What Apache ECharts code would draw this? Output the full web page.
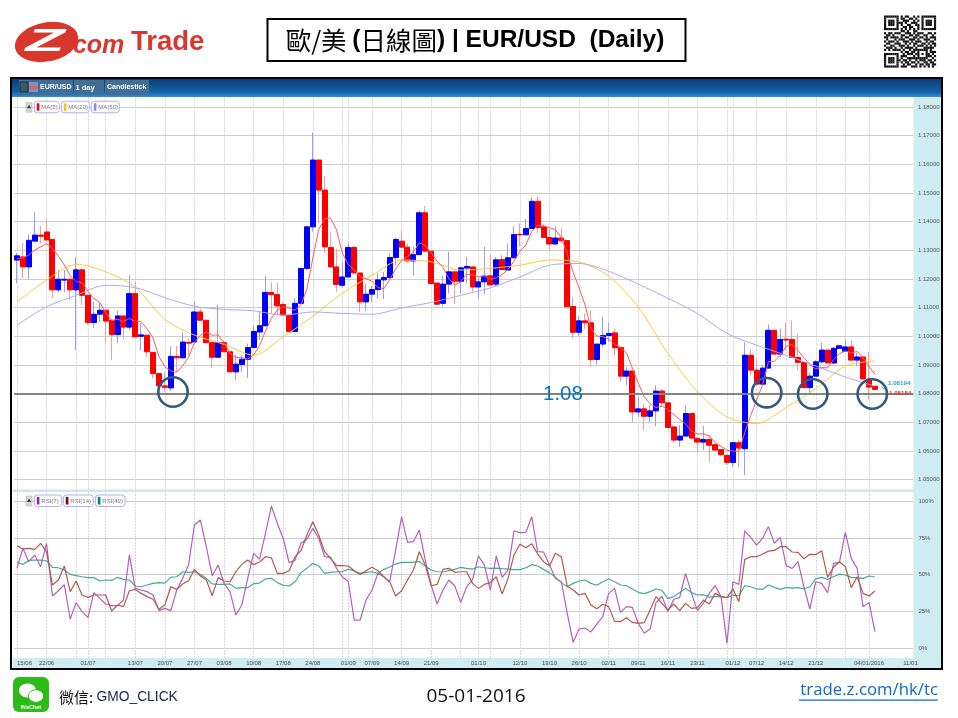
<!DOCTYPE html>
<html>
<head>
<meta charset="utf-8">
<title>EUR/USD Daily</title>
<style>
html,body{margin:0;padding:0;background:#fff;}
#chart{width:958px;height:718px;}
</style>
<script src="https://cdn.jsdelivr.net/npm/echarts@6/dist/echarts.min.js"></script>
</head>
<body>
<div id="chart"></div>
<script>
// date labels on the bottom axis
var tickIdx=[0,5,12,20,25,30,35,40,45,50,56,60,65,70,78,85,90,95,100,105,110,115,121,125,130,135,144,151];
var tickText=["15/06","22/06","01/07","13/07","20/07","27/07","03/08","10/08","17/08","24/08","01/09","07/09","14/09","21/09","01/10","12/10","19/10","26/10","02/11","09/11","16/11","23/11","01/12","07/12","14/12","21/12","04/01/2016","11/01"];
var gridDays=[0,5,10,12,15,20,25,30,35,40,45,50,55,56,60,65,70,75,78,80,85,90,95,100,105,110,115,120,121,125,130,135,140,144];
var slotCount=152;

var openP=[1.1266,1.1277,1.1242,1.1332,1.1353,1.1364,1.1338,1.1162,1.1196,1.1199,1.1162,1.1232,1.1143,1.1048,1.1077,1.1091,1.1056,1.1006,1.1071,1.1032,1.1149,1.1000,1.1004,1.0944,1.0870,1.0827,1.0820,1.0930,1.0925,1.0979,1.0980,1.1085,1.1056,1.0978,1.0927,1.0978,1.0946,1.0876,1.0902,1.0920,1.0961,1.1015,1.1037,1.1153,1.1146,1.1111,1.1074,1.1017,1.1115,1.1237,1.1382,1.1615,1.1510,1.1310,1.1242,1.1178,1.1207,1.1310,1.1221,1.1120,1.1147,1.1163,1.1197,1.1205,1.1275,1.1332,1.1311,1.1263,1.1285,1.1431,1.1297,1.1186,1.1115,1.1182,1.1225,1.1192,1.1238,1.1242,1.1172,1.1190,1.1211,1.1182,1.1268,1.1231,1.1274,1.1356,1.1354,1.1376,1.1471,1.1382,1.1345,1.1322,1.1343,1.1334,1.1104,1.1014,1.1054,1.1047,1.0919,1.0973,1.1003,1.1012,1.0961,1.0861,1.0879,1.0736,1.0747,1.0721,1.0740,1.0809,1.0768,1.0684,1.0638,1.0652,1.0731,1.0644,1.0631,1.0640,1.0622,1.0605,1.0585,1.0560,1.0629,1.0608,1.0934,1.0882,1.0833,1.0889,1.1021,1.0938,1.0990,1.0989,1.0926,1.0909,1.0821,1.0861,1.0911,1.0952,1.0907,1.0958,1.0948,1.0963,1.0917,1.0928,1.0851,1.0826];
var closeP=[1.1281,1.1242,1.1335,1.1353,1.1349,1.1336,1.1162,1.1199,1.1199,1.1162,1.1232,1.1143,1.1048,1.1077,1.1091,1.1053,1.1006,1.1071,1.1032,1.1149,1.0998,1.1005,1.0946,1.0870,1.0827,1.0822,1.0930,1.0925,1.0980,1.0976,1.1085,1.1056,1.0978,1.0927,1.0978,1.0946,1.0876,1.0903,1.0920,1.0961,1.1017,1.1037,1.1153,1.1145,1.1106,1.1074,1.1017,1.1115,1.1237,1.1382,1.1615,1.1510,1.1312,1.1242,1.1181,1.1207,1.1310,1.1221,1.1120,1.1147,1.1163,1.1197,1.1205,1.1275,1.1338,1.1311,1.1263,1.1285,1.1431,1.1297,1.1184,1.1112,1.1182,1.1225,1.1192,1.1239,1.1244,1.1172,1.1190,1.1210,1.1179,1.1267,1.1233,1.1274,1.1355,1.1354,1.1376,1.1471,1.1380,1.1345,1.1322,1.1343,1.1333,1.1103,1.1014,1.1054,1.1047,1.0919,1.0973,1.1003,1.1010,1.0960,1.0861,1.0879,1.0736,1.0747,1.0721,1.0740,1.0809,1.0768,1.0682,1.0638,1.0652,1.0731,1.0645,1.0631,1.0640,1.0620,1.0603,1.0587,1.0560,1.0629,1.0610,1.0934,1.0882,1.0833,1.0889,1.1021,1.0938,1.0989,1.0987,1.0926,1.0909,1.0821,1.0861,1.0911,1.0952,1.0907,1.0958,1.0967,1.0963,1.0917,1.0928,1.0851,1.0823,1.0815];
var lowP=[1.1185,1.1203,1.1199,1.1332,1.1325,1.1335,1.1133,1.1154,1.1154,1.1126,1.0952,1.1109,1.1039,1.1028,1.1050,1.0976,1.0917,1.0976,1.0990,1.1021,1.0998,1.0952,1.0928,1.0854,1.0822,1.0806,1.0809,1.0876,1.0925,1.0934,1.0980,1.1056,1.0976,1.0890,1.0927,1.0946,1.0876,1.0846,1.0876,1.0854,1.0961,1.0987,1.1033,1.1081,1.1074,1.1070,1.1017,1.1017,1.1115,1.1231,1.1365,1.1395,1.1290,1.1238,1.1155,1.1172,1.1206,1.1221,1.1085,1.1089,1.1120,1.1132,1.1130,1.1199,1.1248,1.1311,1.1262,1.1211,1.1283,1.1297,1.1184,1.1112,1.1105,1.1149,1.1112,1.1149,1.1184,1.1155,1.1131,1.1147,1.1178,1.1173,1.1233,1.1231,1.1274,1.1312,1.1354,1.1376,1.1359,1.1345,1.1301,1.1322,1.1333,1.1103,1.0993,1.1000,1.1024,1.0893,1.0901,1.0961,1.0979,1.0934,1.0841,1.0829,1.0701,1.0718,1.0672,1.0701,1.0686,1.0754,1.0680,1.0630,1.0614,1.0652,1.0642,1.0592,1.0603,1.0562,1.0603,1.0581,1.0551,1.0544,1.0544,1.0515,1.0864,1.0833,1.0833,1.0889,1.0938,1.0926,1.0952,1.0926,1.0882,1.0821,1.0800,1.0861,1.0906,1.0907,1.0903,1.0958,1.0948,1.0917,1.0897,1.0851,1.0780,1.0815];
var highP=[1.1291,1.1326,1.1356,1.1433,1.1385,1.1409,1.1339,1.1231,1.1231,1.1199,1.1276,1.1234,1.1143,1.1120,1.1120,1.1091,1.1056,1.1089,1.1071,1.1213,1.1190,1.1046,1.1004,1.0944,1.0870,1.0875,1.0966,1.0966,1.1013,1.0993,1.1123,1.1098,1.1056,1.0980,1.1109,1.0986,1.0946,1.0934,1.0934,1.0975,1.1039,1.1085,1.1211,1.1188,1.1187,1.1120,1.1074,1.1133,1.1238,1.1384,1.1711,1.1615,1.1560,1.1362,1.1306,1.1260,1.1327,1.1315,1.1221,1.1182,1.1176,1.1221,1.1225,1.1290,1.1345,1.1370,1.1325,1.1312,1.1438,1.1455,1.1297,1.1186,1.1211,1.1295,1.1225,1.1243,1.1277,1.1242,1.1207,1.1312,1.1286,1.1277,1.1283,1.1324,1.1384,1.1394,1.1409,1.1485,1.1490,1.1391,1.1376,1.1384,1.1376,1.1335,1.1138,1.1070,1.1080,1.1091,1.0973,1.1068,1.1047,1.1025,1.0961,1.0893,1.0879,1.0789,1.0763,1.0760,1.0829,1.0816,1.0768,1.0684,1.0690,1.0760,1.0731,1.0644,1.0687,1.0655,1.0622,1.0605,1.0585,1.0630,1.0638,1.0980,1.0954,1.0923,1.0899,1.1041,1.1021,1.1027,1.1048,1.1056,1.1010,1.0909,1.0873,1.0917,1.0979,1.0952,1.0963,1.0969,1.0989,1.0987,1.0942,1.0928,1.0946,1.0826];

var ma5=[1.1270,1.1274,1.1283,1.1301,1.1312,1.1323,1.1307,1.1280,1.1249,1.1212,1.1191,1.1187,1.1157,1.1132,1.1118,1.1082,1.1055,1.1060,1.1051,1.1062,1.1051,1.1051,1.1026,1.0994,1.0929,1.0894,1.0879,1.0875,1.0897,1.0927,1.0979,1.1004,1.1015,1.1004,1.1005,1.0977,1.0941,1.0926,1.0925,1.0921,1.0935,1.0968,1.1018,1.1063,1.1092,1.1103,1.1099,1.1091,1.1110,1.1165,1.1273,1.1372,1.1411,1.1412,1.1372,1.1290,1.1250,1.1232,1.1208,1.1201,1.1192,1.1170,1.1166,1.1197,1.1236,1.1265,1.1278,1.1294,1.1326,1.1317,1.1292,1.1262,1.1241,1.1200,1.1179,1.1190,1.1216,1.1214,1.1207,1.1211,1.1199,1.1204,1.1216,1.1233,1.1262,1.1297,1.1318,1.1366,1.1387,1.1385,1.1379,1.1372,1.1345,1.1289,1.1223,1.1169,1.1110,1.1027,1.1001,1.0999,1.0990,1.0973,1.0961,1.0943,1.0889,1.0837,1.0789,1.0765,1.0751,1.0757,1.0744,1.0727,1.0710,1.0694,1.0670,1.0659,1.0660,1.0653,1.0628,1.0616,1.0602,1.0600,1.0598,1.0664,1.0723,1.0778,1.0830,1.0912,1.0913,1.0934,1.0965,1.0972,1.0950,1.0926,1.0901,1.0886,1.0891,1.0890,1.0918,1.0939,1.0949,1.0942,1.0947,1.0925,1.0896,1.0867];
// the two slow averages are read every 5th candle
var maStep=5;
var ma20=[1.1120,1.1196,1.1251,1.1225,1.1171,1.1059,1.1004,1.0972,1.0934,1.0998,1.1070,1.1150,1.1213,1.1266,1.1260,1.1231,1.1237,1.1248,1.1266,1.1259,1.1210,1.1102,1.0941,1.0806,1.0719,1.0696,1.0752,1.0818,1.0896,1.0914];
var ma50=[1.1039,1.1103,1.1143,1.1178,1.1170,1.1135,1.1105,1.1094,1.1089,1.1074,1.1085,1.1080,1.1077,1.1099,1.1118,1.1143,1.1169,1.1207,1.1248,1.1254,1.1227,1.1182,1.1133,1.1080,1.1010,1.0969,1.0934,1.0896,1.0858,1.0826];

var rsi7=[54.3,67.9,58.8,63.3,55.4,71.3,35.5,39.1,43.2,19.9,31,24.9,21,37.8,33.9,30.1,29,29,32.8,63.3,40.7,39.6,38.5,36.2,25.6,27.1,25.6,39.6,47.5,56.6,83.7,87.1,69,49.3,56.6,44.1,38.5,22.6,29.4,47.5,64.5,60.6,78,96.6,84.8,74.6,58.1,59.9,71.3,74,81.4,74.6,
62.2,61.8,54.3,48.6,45.2,19.2,19.2,32.8,39.6,50.9,48.6,45.2,66.7,89.3,71.9,72.4,80.3,59.9,43,30.1,39.6,46.4,42.3,31.2,41.8,46.8,62.7,56.6,39.6,62.7,48.2,53.2,79.8,78.5,78.7,89.3,65.6,65.4,56.6,47.5,45.2,23.8,4.1,13.1,13.8,11.1,16.5,21.5,37.3,40.7,24.4,28.3,27.8,17,
10.2,13.1,31,35.5,24.9,33.3,34.6,50.9,37.3,25.6,30.5,37.3,42.5,35.1,3.4,45.2,43.4,79.8,75.3,70.1,74.6,82.6,71.3,75.1,56.1,54.3,58.8,41.8,26.7,45.2,44.1,37.8,57.7,58.4,78.7,61.1,54.3,28.3,31.2,11.3];
var rsi14=[69.7,67.4,67.9,67.2,71.3,65.6,43,46.4,55.9,38.5,45.7,36.2,34.6,36.2,36.2,36.2,25.3,29.4,28.3,39.1,40,37.3,35.1,33.3,26.5,29.4,41.8,40,43.7,45.9,53.6,49.1,46.4,35.7,48,45.7,45.2,52,57,59.9,56.8,58.6,62.2,61.5,50.9,50.9,52.7,62.2,66.3,76.9,86,76.9,
65.6,61.1,56.1,56.1,55.9,52.7,50.2,52.7,55,52.7,48.6,45.2,35.5,39.1,46.4,53.2,65.6,56.6,42.5,43.4,53.6,54.3,51.6,52,52,44.1,40.7,43.4,44.6,48.6,36.9,47.5,63.3,70.6,68.3,71,64,58.8,55.9,64.5,62.2,42.3,39.6,36.2,37.3,29.4,26.9,29.9,28.3,18.3,18.1,20.8,17.6,17,
17.4,26,35.1,30.5,26,30.1,25.6,30.5,27.1,27.6,32.8,30.1,37.3,35.1,34.4,40.3,31.7,60.4,62.2,62.2,64,66,66.5,69,69,65.4,65.1,60.8,63.8,63.6,66.3,48.2,55,58.8,55.4,41.2,48.6,37.3,35.5,38.9];
var rsi42=[58.4,57,59.7,59.9,59.9,59.3,55,54.7,53.2,50.2,49.3,48.6,48,48,45.7,46.4,46.1,48.2,46.8,46.4,42.3,41.8,43,44.1,44.6,44.3,48.2,48.6,52,51.6,52,50.2,47.5,43.7,43.4,43.4,43.7,40.7,41.2,41.2,43.9,44.3,47.1,47.5,44.6,42.8,42.3,45.2,51.4,54.3,57.7,55.9,
50.9,51.6,52,52,53.8,52.5,50.9,51.6,52,50.9,53.6,55.2,57.2,58.4,58.4,58.4,59,55.9,53.2,52,51.8,52.7,53.6,55,54.3,53.8,55.4,54.7,54.3,54.5,54.1,53.8,53.4,53.4,54.7,56.8,55.9,53.6,51.4,48.2,44.6,41.8,44.1,45.7,46.4,44.1,42.8,45.2,47.1,45.2,43,42.5,40.3,38,
37.1,38.5,40.3,39.4,33.7,35.1,37.8,40.7,37.8,36.2,36.4,34.8,35.1,35.1,34.4,36,35.7,42.5,41.8,40.3,40,43,41.4,40,41.4,40.9,41.2,40.3,41.8,47.1,48.2,46.8,48.6,50.4,49.8,48.2,48,47.5,49.1,48.4];

var qrRows=["1111111010110010101111111","1000001011001101001000001","1011101001110010101011101","1011101110100111001011101","1011101010011001101011101","1000001001101100101000001","1111111010101010101111111","0000000011010011000000000","1011011100111010111001101","0110100011001101100110010","1101111010110011011010111","0100010111001110100111001","1011101001110101110010110","0110011100101011001101011","1001100111010010111010101","0111010010111101000111110","1010111101001011111110100","0000000010110110100010111","1111111001011101101011010","1000001011100010100011101","1011101010011111111110010","1011101101101001011101101","1011101010110110100110110","1000001001011001011011011","1111111011100111010101010"];

var priceTickDigits=5;
var priceShown=[1.0466,1.1835];      //what the top panel really shows
var rsiShown=[-6.6,106.1];           //same for the rsi panel
var sansFont='"Liberation Sans",Arial,sans-serif';

var categories=[];
for (var i=0;i<slotCount;i++){categories.push("");}
for (var i=0;i<tickIdx.length;i++){categories[tickIdx[i]]=tickText[i];}

var wickData=[],bodyData=[];
for (var i=0;i<openP.length;i++){
    wickData.push([openP[i],closeP[i],lowP[i],highP[i]]);
    bodyData.push([openP[i],closeP[i],Math.min(openP[i],closeP[i]),Math.max(openP[i],closeP[i])]);
}
function sparse(list){                 //every maStep-th candle -> [index,value]
    var out=[];
    for (var i=0;i<list.length;i++){out.push([i*maStep,list[i]]);}
    return out;
}
function gridLines(range){
    var out=[];
    for (var i=0;i<gridDays.length;i++){
        out.push([{xAxis:gridDays[i],yAxis:range[0]},{xAxis:gridDays[i],yAxis:range[1]}]);
    }
    return {
        silent:true,symbol:'none',z:1,animation:false,
        label:{show:false},
        lineStyle:{color:'#d6d6de',width:1,type:[2,1]},
        emphasis:{disabled:true},
        data:out
    };
}

// page furniture, all in pixels of the 958x718 picture
var chrome=[];
function box(x,y,w,h,fill,stroke,lw,r,z){
    chrome.push({type:'rect',z:z==null?100:z,silent:true,shape:{x:x,y:y,width:w,height:h,r:r||0},
        style:{fill:fill,stroke:stroke||null,lineWidth:lw||0}});
}
function label(x,y,text,size,color,extra,el){
    var st={x:x,y:y,text:text,fontSize:size,fill:color,fontFamily:sansFont,textAlign:'left',textVerticalAlign:'middle'};
    for (var k in (extra||{})){st[k]=extra[k];}
    var item={type:'text',z:101,silent:true,style:st};
    for (var k in (el||{})){item[k]=el[k];}
    chrome.push(item);
}
// panel background strips
box(913.4,97,28,571,'#cfecf2',null,0,0,-5);
box(13,658,928,10,'#cfecf2',null,0,0,-5);
box(13,489.5,901,2.5,'#cfe6ea',null,0,0,-5);
// window frame and title bar
chrome.push({type:'rect',z:100,silent:true,shape:{x:12,y:79,width:929,height:18},
    style:{fill:new echarts.graphic.LinearGradient(0,0,0,1,[{offset:0,color:'#0b3c7c'},{offset:.7,color:'#15609f'},{offset:1,color:'#2f8fdc'}])}});
box(11,78,931,591,'none','#000',2,0,102);
box(19,80,54,15,'#3f6f96');box(74,80,30,15,'#3f6f96');box(105,80,44,15,'#3f6f96');
box(20,82,8,10,'#355f5f','#16324a',1);box(29,82,9,10,'#8090c8');
box(29,86,9,3,'#e06060');
label(40,87.5,'EUR/USD',7,'#fff',{fontWeight:'bold'});
label(75.5,87.5,'1 day',7.5,'#fff',{fontWeight:'bold'});
label(107,87.5,'Candlestick',7,'#fff',{fontWeight:'bold'});

// little legend badges
function badges(y,list){
    box(26,y+1,6,10,'#d8d8d8','#aaa',.5);
    chrome.push({type:'polygon',z:101,silent:true,shape:{points:[[29,y+3.5],[31,y+7],[27,y+7]]},style:{fill:'#333'}});
    for (var i=0;i<list.length;i++){
        var b=list[i];
        box(b[0],y,b[1],11.5,'#fff','#aeb0f5',1,3);
        box(b[0]+2.5,y+2,2.6,7.5,b[3]);
        label(b[0]+7,y+6,b[2],6,'#777');
    }
}
badges(101.3,[[34.3,25,'MA(5)','#ff0000'],[61.3,28,'MA(20)','#ffc000'],[91.3,28,'MA(50)','#8a8aff']]);
badges(495,[[34.3,27.4,'RSI(7)','#a020a0'],[63.3,30,'RSI(14)','#800000'],[95.3,29.7,'RSI(42)','#008080']]);

// hand drawn circles around the 1.08 touches
var circleX=[173,766.7,812.7,872.3];
var circleY=[392,392.7,394,394];
for (var i=0;i<circleX.length;i++){
    chrome.push({type:'circle',z:60,silent:true,shape:{cx:circleX[i],cy:circleY[i],r:14.7},
        style:{fill:'none',stroke:'#34597f',lineWidth:2.6}});
}
label(543,394,'1.08',20.5,'#0b72c4');
label(888,383.5,'1.08194',6.2,'#2a9fd6',{fontWeight:'bold'});
label(889,393,'1.08184',6.2,'#e03030',{fontWeight:'bold'});
chrome.push({type:'polyline',z:60,silent:true,shape:{points:[[881.5,387],[886,390]]},style:{stroke:'#2a9fd6',lineWidth:1,fill:'none'}});

// logo
chrome.push({type:'ellipse',z:100,silent:true,shape:{cx:46.5,cy:42,rx:32,ry:19.5},rotation:0.2,originX:46.5,originY:42,style:{fill:'#d9362c'}});
label(0,0,'Z',32,'#fff',{fontWeight:'bold',fontStyle:'italic',textAlign:'center'},{x:45,y:42,scaleX:2});
label(66,46,'.com',25,'#d9362c',{fontWeight:'bold',fontStyle:'italic'});
label(131,42.5,'Trade',27.5,'#d9362c',{fontWeight:'bold'});

// title box
box(267.5,19,418,42,'#fff','#000',2);
chrome.push({type:'text',z:101,silent:true,style:{
    x:475,y:40.5,textAlign:'center',textVerticalAlign:'middle',
    text:'{c|歐/美 }{b|(}{c|日線圖}{b|) | EUR/USD  (Daily)}',
    rich:{
        c:{fontFamily:'"Noto Sans CJK TC"',fontSize:25.5,fill:'#000'},
        b:{fontFamily:sansFont,fontSize:24.5,fontWeight:'bold',fill:'#000'}
    }
}});

// qr code
var qrCell=52/25;
for (var r=0;r<qrRows.length;r++){
    for (var c=0;c<qrRows[r].length;c++){
        if (qrRows[r].charAt(c)=="1"){
            box(884+c*qrCell,15.5+r*qrCell,qrCell+.1,qrCell+.1,'#111');
        }
    }
}

// footer
box(13,677,36,35,'#2dbb1a',null,0,6);
chrome.push({type:'ellipse',z:102,silent:true,shape:{cx:27.5,cy:690.5,rx:8.5,ry:7},style:{fill:'#fff'}});
chrome.push({type:'ellipse',z:103,silent:true,shape:{cx:36,cy:696,rx:7.5,ry:6.3},style:{fill:'#fff',stroke:'#2dbb1a',lineWidth:1}});
label(31,707.5,'WeChat',5.5,'#fff',{fontWeight:'bold',textAlign:'center'});
chrome.push({type:'text',z:101,silent:true,style:{
    x:59,y:697,textVerticalAlign:'middle',
    text:'{a|微信: }{b|GMO_CLICK}',
    rich:{
        a:{fontFamily:'"Noto Sans CJK TC"',fontSize:15,fill:'#111'},
        b:{fontFamily:sansFont,fontSize:13.8,fill:'#12284c'}
    }
}});
label(476,697,'05-01-2016',19,'#111',{textAlign:'center',fontFamily:'"Open Sans"'});
label(938,690,'trade.z.com/hk/tc',16.8,'#0b6cc4',{textAlign:'right',fontFamily:'"Open Sans"'});
box(799,699.5,139,1.2,'#0b6cc4');

var option={
    animation:false,
    backgroundColor:'#fff',
    graphic:{elements:chrome},
    axisPointer:{show:false},
    // both panels run past what is shown, so the ticks fall on round values
    grid:[
        {left:14,top:78.34,width:899.4,height:429.96},
        {left:14,top:464.2,width:899.4,height:220.95}
    ],
    xAxis:[
        {type:'category',gridIndex:0,data:categories,
            axisLine:{show:false},axisTick:{show:false},axisLabel:{show:false},splitLine:{show:false}},
        {type:'category',gridIndex:1,data:categories,offset:-27,
            axisLine:{show:false},axisTick:{show:false},splitLine:{show:false},
            axisLabel:{interval:0,fontSize:6,color:'#444',margin:2.5,fontFamily:sansFont,alignMinLabel:'left',hideOverlap:false}}
    ],
    yAxis:[
        {type:'value',gridIndex:0,position:'right',min:1.04,max:1.19,interval:0.01,
            axisLine:{show:false},axisTick:{show:false},
            axisLabel:{fontSize:6,color:'#555',margin:4.5,fontFamily:sansFont,showMinLabel:false,showMaxLabel:false,
                formatter:function(v){return v.toFixed(priceTickDigits);}},
            splitLine:{showMinLine:false,showMaxLine:false,lineStyle:{color:'#cbcfcb',width:1}}},
        {type:'value',gridIndex:1,position:'right',min:-25,max:125,interval:25,
            axisLine:{show:false},axisTick:{show:false},
            axisLabel:{fontSize:6,color:'#555',margin:5,fontFamily:sansFont,showMinLabel:false,showMaxLabel:false,
                formatter:function(v){return v+'%';}},
            splitLine:{showMinLine:false,showMaxLine:false,lineStyle:{color:'#cbcfcb',width:1}}}
    ],
    series:[
        {name:'wick',type:'candlestick',xAxisIndex:0,yAxisIndex:0,data:wickData,barWidth:1,silent:true,z:2,
            itemStyle:{color:'#9a9aff',color0:'#ff9a9a',borderColor:'#9a9aff',borderColor0:'#ff9a9a',borderWidth:1},
            markLine:gridLines(priceShown)},
        {name:'body',type:'candlestick',xAxisIndex:0,yAxisIndex:0,data:bodyData,barWidth:5.5,silent:true,z:3,
            itemStyle:{color:'#0000ff',color0:'#ff0000',borderColor:'#0000ff',borderColor0:'#ff0000',borderWidth:1}},
        {name:'MA(5)',type:'line',xAxisIndex:0,yAxisIndex:0,data:ma5,symbol:'none',silent:true,z:5,
            lineStyle:{color:'#ff5a5a',width:1}},
        {name:'MA(20)',type:'line',xAxisIndex:0,yAxisIndex:0,data:sparse(ma20),symbol:'none',silent:true,smooth:.3,z:4,
            lineStyle:{color:'#ffc933',width:1}},
        {name:'MA(50)',type:'line',xAxisIndex:0,yAxisIndex:0,data:sparse(ma50),symbol:'none',silent:true,smooth:.3,z:4,
            lineStyle:{color:'#aaaaf6',width:1},
            markLine:{silent:true,symbol:'none',z:6,animation:false,label:{show:false},
                lineStyle:{color:'#7d8a80',width:2,type:'solid'},data:[{yAxis:1.08}]}},
        {name:'RSI(7)',type:'line',xAxisIndex:1,yAxisIndex:1,data:rsi7,symbol:'none',silent:true,z:4,
            lineStyle:{color:'#b45fba',width:1.2},markLine:gridLines(rsiShown)},
        {name:'RSI(14)',type:'line',xAxisIndex:1,yAxisIndex:1,data:rsi14,symbol:'none',silent:true,z:5,
            lineStyle:{color:'#b4584e',width:1.2}},
        {name:'RSI(42)',type:'line',xAxisIndex:1,yAxisIndex:1,data:rsi42,symbol:'none',silent:true,z:4,
            lineStyle:{color:'#47a8a0',width:1.2}}
    ]
};
var myChart=echarts.init(document.getElementById('chart'));
myChart.setOption(option);
</script>
</body>
</html>
